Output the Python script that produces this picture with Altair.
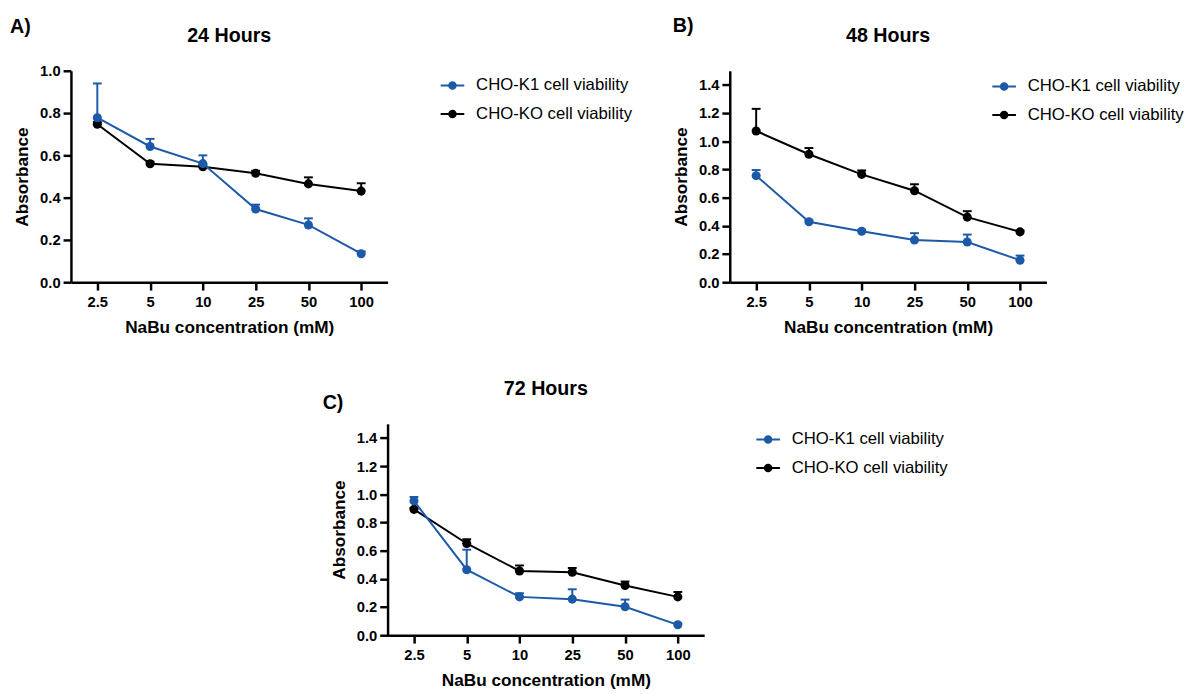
import altair as alt
import pandas as pd

categories = ["2.5", "5", "10", "25", "50", "100"]
series_names = ["CHO-K1 cell viability", "CHO-KO cell viability"]
colors = ["#1c5aa8", "#000000"]

# 24 hours
k1_24 = [0.778, 0.642, 0.561, 0.346, 0.271, 0.135]
k1_24_sd = [0.162, 0.036, 0.039, 0.021, 0.031, 0.010]
ko_24 = [0.747, 0.560, 0.546, 0.515, 0.465, 0.431]
ko_24_sd = [0.010, 0.010, 0.010, 0.012, 0.031, 0.037]

# 48 hours
k1_48 = [0.756, 0.429, 0.362, 0.299, 0.285, 0.156]
k1_48_sd = [0.040, 0.010, 0.010, 0.049, 0.053, 0.033]
ko_48 = [1.073, 0.908, 0.765, 0.649, 0.462, 0.357]
ko_48_sd = [0.157, 0.044, 0.028, 0.046, 0.042, 0.010]

# 72 hours
k1_72 = [0.953, 0.465, 0.272, 0.256, 0.202, 0.074]
k1_72_sd = [0.028, 0.142, 0.026, 0.070, 0.051, 0.010]
ko_72 = [0.893, 0.651, 0.456, 0.447, 0.353, 0.272]
ko_72_sd = [0.010, 0.030, 0.039, 0.030, 0.028, 0.035]

ticks_1 = [0.0, 0.2, 0.4, 0.6, 0.8, 1.0]
ticks_14 = [0.0, 0.2, 0.4, 0.6, 0.8, 1.0, 1.2, 1.4]

FONT = "Liberation Sans"
W, H = 322, 215

legend_path = ("M-1,-0.08L1,-0.08L1,0.08L-1,0.08Z "
               "M0.36,0A0.36,0.36,0,1,1,-0.36,0A0.36,0.36,0,1,1,0.36,0Z")


def make_df(k1, k1sd, ko, kosd):
    rows = []
    for name, vals, sds in [(series_names[1], ko, kosd), (series_names[0], k1, k1sd)]:
        for c, v, s in zip(categories, vals, sds):
            rows.append({"conc": c, "series": name, "value": v, "upper": v + s})
    return pd.DataFrame(rows)


def panel(df, ymax, yticks, title, letter, lx, ly, letx, lety):
    x = alt.X("conc:O", sort=categories,
              scale=alt.Scale(type="point", padding=0.5),
              axis=alt.Axis(title="NaBu concentration (mM)", labelAngle=0))

    def yenc(field):
        return alt.Y(field, type="quantitative",
                     scale=alt.Scale(domain=[0, ymax], nice=False, zero=True),
                     axis=alt.Axis(title="Absorbance", values=yticks, format=".1f"))

    color = alt.Color("series:N",
                      scale=alt.Scale(domain=series_names, range=colors),
                      legend=alt.Legend(title=None, orient="none", legendX=lx, legendY=ly,
                                        symbolType=legend_path, symbolSize=576,
                                        symbolStrokeWidth=0, symbolOpacity=1,
                                        labelFont=FONT, labelFontSize=17, labelColor="black",
                                        labelOffset=12, rowPadding=9))
    layers = []
    for name, col in [(series_names[1], colors[1]), (series_names[0], colors[0])]:
        base = alt.Chart(df).transform_filter(alt.datum.series == name)
        layers.append(base.mark_line(color=col, strokeWidth=2).encode(x=x, y=yenc("value")))
        layers.append(base.mark_rule(color=col, strokeWidth=2).encode(
            x=x, y=yenc("value"), y2="upper:Q"))
        layers.append(base.mark_tick(color=col, thickness=2, size=9, opacity=1).encode(
            x=x, y=yenc("upper")))
        layers.append(base.mark_point(filled=True, size=85, opacity=1).encode(
            x=x, y=yenc("value"), color=color))
    tdf = pd.DataFrame({"t": [title]})
    ldf = pd.DataFrame({"t": [letter]})
    ttl = alt.Chart(tdf).mark_text(font=FONT, fontSize=20, fontWeight="bold", align="center",
                                   baseline="alphabetic", color="black").encode(
        text="t:N", x=alt.value(W / 2), y=alt.value(-29))
    let = alt.Chart(ldf).mark_text(font=FONT, fontSize=20, fontWeight="bold", align="left",
                                   baseline="middle", color="black").encode(
        text="t:N", x=alt.value(letx), y=alt.value(lety))
    return alt.layer(*layers, ttl, let).properties(width=W, height=H)


pA = panel(make_df(k1_24, k1_24_sd, ko_24, ko_24_sd), 1.0, ticks_1, "24 Hours", "A)",
           376, 3, -62, -44)
pB = panel(make_df(k1_48, k1_48_sd, ko_48, ko_48_sd), 1.5, ticks_14, "48 Hours", "B)",
           267, 4, -58, -45)
pC = panel(make_df(k1_72, k1_72_sd, ko_72, ko_72_sd), 1.5, ticks_14, "72 Hours", "C)",
           375, 4, -66, -21)

spacer = alt.Chart(pd.DataFrame({"a": [0]})).mark_point(opacity=0).encode(
    x=alt.X("a:Q", axis=None), y=alt.Y("a:Q", axis=None)).properties(width=1, height=1)

top = alt.hconcat(pA, pB, spacing=348, bounds="flush").resolve_scale(color="independent")
bottom = alt.hconcat(spacer, pC, spacing=321, bounds="flush").resolve_scale(color="independent")

chart = alt.vconcat(top, bottom, spacing=359, bounds="flush").resolve_scale(
    color="independent"
).properties(
    padding={"left": 2, "top": 3, "right": 5, "bottom": 5}
).configure_view(stroke=None).configure_axis(
    domainColor="black", domainWidth=2.5, tickColor="black", tickWidth=2.5, tickSize=8,
    labelFont=FONT, labelFontSize=15, labelFontWeight="bold", labelColor="black",
    titleFont=FONT, titleFontSize=17.5, titleFontWeight="bold", titleColor="black",
    grid=False
).configure_axisX(labelPadding=5, titlePadding=9).configure_axisY(
    labelPadding=3, titlePadding=8)

chart.save("out.html", embed_options={"renderer": "svg", "actions": False})
